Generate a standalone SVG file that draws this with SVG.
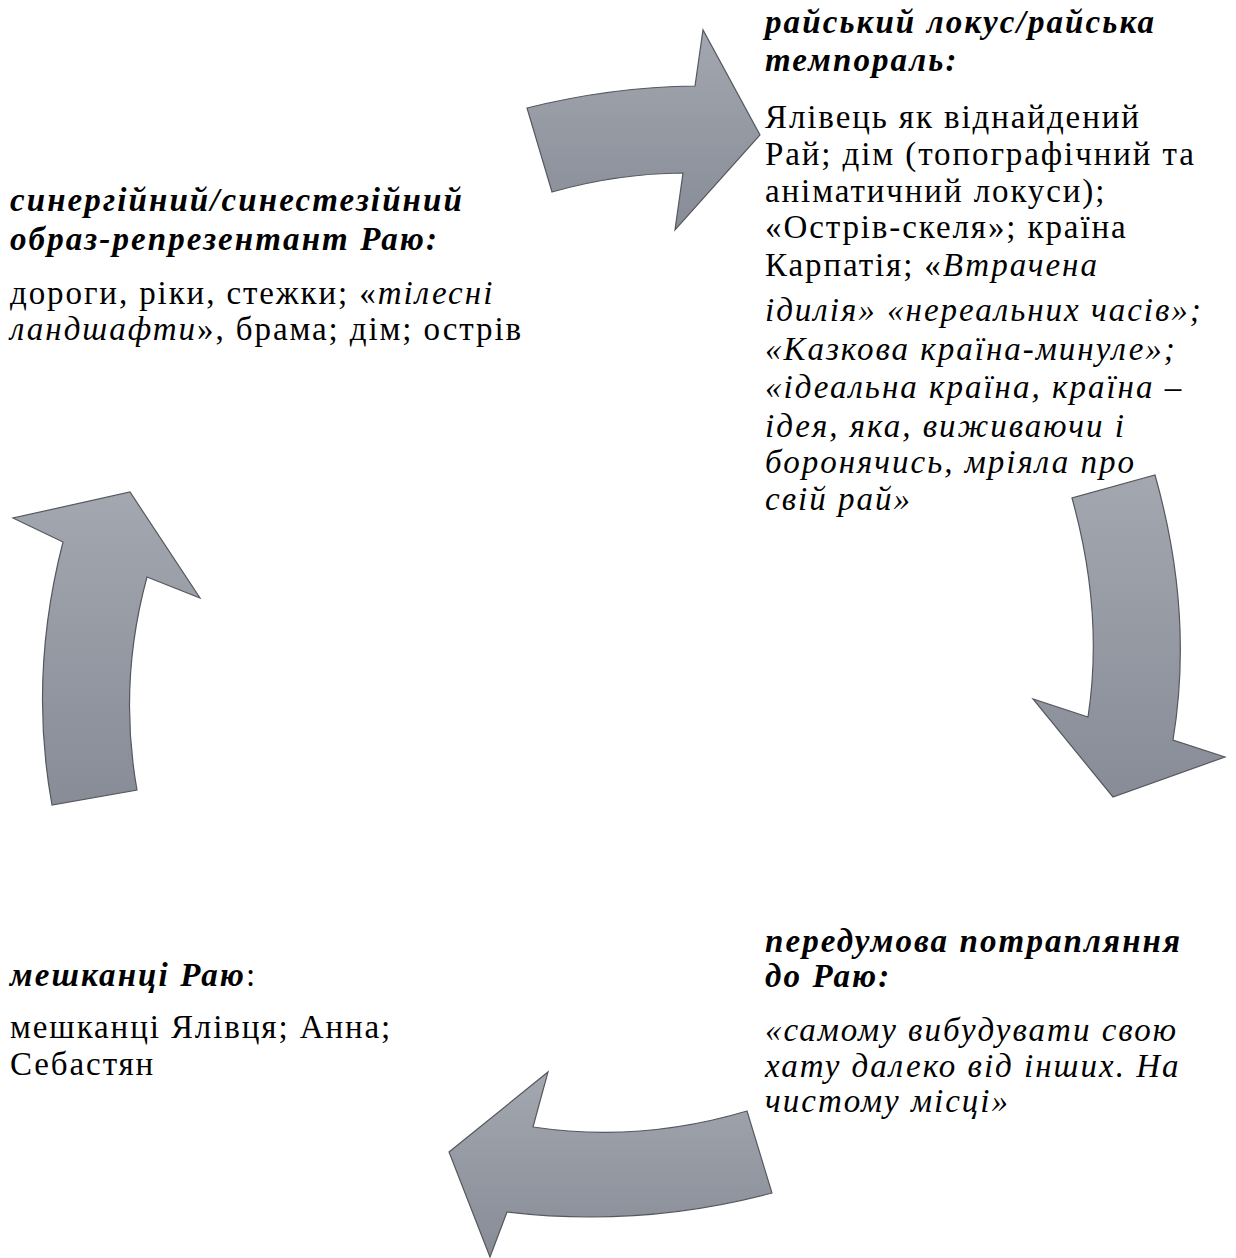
<svg xmlns="http://www.w3.org/2000/svg" width="1236" height="1258" viewBox="0 0 1236 1258">
<defs>
<linearGradient id="g" x1="0" y1="0" x2="0" y2="1">
<stop offset="0" stop-color="#a3a7b0"/>
<stop offset="1" stop-color="#878c96"/>
</linearGradient>
<style>
.arr{fill:url(#g);stroke:#55585e;stroke-width:1.2;stroke-linejoin:miter}
text{font-family:"Liberation Serif","Times New Roman",serif;font-size:33px;fill:#000;letter-spacing:1.9px}
.h{font-style:italic;font-weight:bold;letter-spacing:2.1px}
.i{font-style:italic;letter-spacing:2px}
.r{font-style:normal;font-weight:normal}
</style>
</defs>
<rect width="1236" height="1258" fill="#fff"/>
<g id="connectors">
<path class="arr" d="M527,108 Q611,87 695,86 L703,30 L760,135 L675,230 L683,173 Q617,173.5 552,192 Z"/>
<path class="arr" d="M1155,475 Q1194,613 1173,740 L1225,757 L1113,797 L1033,699 L1088,717 Q1104,613 1072,498 Z"/>
<path class="arr" d="M747,1111 Q640,1143 533,1127 L548,1072 L449,1152 L490,1257 L507,1212 Q640,1228 772,1193 Z"/>
<path class="arr" d="M137,790 Q118,683 147,577 L200,598 L130,492 L13,518 L63,542 Q28.5,676 52,805 Z"/>
</g>
<g id="node-top-left">
<text class="h" x="10" y="211">синергійний/синестезійний</text>
<text class="h" x="10" y="250">образ-репрезентант Раю:</text>
<text x="10" y="304">дороги, ріки, стежки; «<tspan class="i">тілесні</tspan></text>
<text x="10" y="340"><tspan class="i">ландшафти</tspan>», брама; дім; острів</text>
</g>
<g id="node-top-right">
<text class="h" x="765" y="33">райський локус/райська</text>
<text class="h" x="765" y="71">темпораль:</text>
<text x="765" y="128">Ялівець як віднайдений</text>
<text x="765" y="165">Рай; дім (топографічний та</text>
<text x="765" y="202">аніматичний локуси);</text>
<text x="765" y="238">«Острів-скеля»; країна</text>
<text x="765" y="276">Карпатія; «<tspan class="i">Втрачена</tspan></text>
<text class="i" x="765" y="321">ідилія» «нереальних часів»;</text>
<text class="i" x="765" y="360">«Казкова країна-минуле»;</text>
<text class="i" x="765" y="398">«ідеальна країна, країна –</text>
<text class="i" x="765" y="437">ідея, яка, виживаючи і</text>
<text class="i" x="765" y="473">боронячись, мріяла про</text>
<text class="i" x="765" y="510">свій рай»</text>
</g>
<g id="node-bottom-right">
<text class="h" x="765" y="952">передумова потрапляння</text>
<text class="h" x="765" y="987">до Раю:</text>
<text class="i" x="765" y="1041">«самому вибудувати свою</text>
<text class="i" x="765" y="1077">хату далеко від інших. На</text>
<text class="i" x="765" y="1112">чистому місці»</text>
</g>
<g id="node-bottom-left">
<text class="h" x="10" y="986">мешканці Раю<tspan class="r">:</tspan></text>
<text x="10" y="1038">мешканці Ялівця; Анна;</text>
<text x="10" y="1075">Себастян</text>
</g>
</svg>
